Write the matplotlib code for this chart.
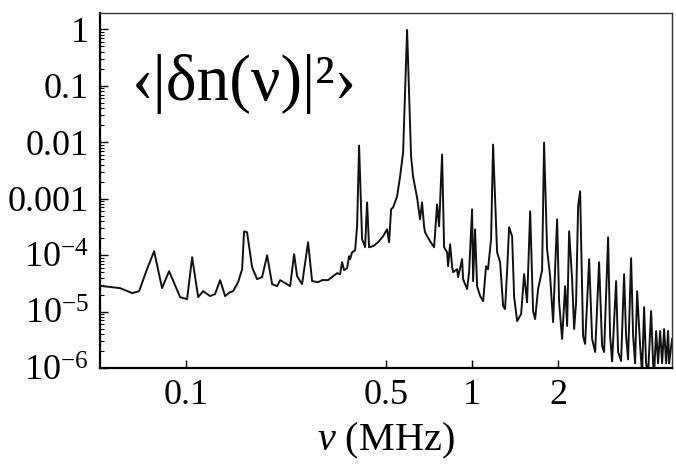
import matplotlib
matplotlib.use('Agg')
import matplotlib.pyplot as plt
from matplotlib.ticker import FixedLocator, FixedFormatter, LogLocator, NullLocator, NullFormatter

plt.rcParams['font.family'] = ['Liberation Serif', 'DejaVu Serif']
plt.rcParams['mathtext.fontset'] = 'custom'
plt.rcParams['mathtext.rm'] = 'Liberation Serif'
plt.rcParams['mathtext.it'] = 'Liberation Serif:italic'

# frequency (MHz) and spectral power
freq = [0.0500, 0.0588, 0.0648, 0.0685, 0.0730, 0.0773, 0.0824, 0.0872, 0.0953, 0.1008,
        0.1050, 0.1102, 0.1147, 0.1213, 0.1263, 0.1315, 0.1369, 0.1425, 0.1460, 0.1520,
        0.1570, 0.1595, 0.1634, 0.1701, 0.1771, 0.1844, 0.1920, 0.1999, 0.2081, 0.2132,
        0.2220, 0.2311, 0.2386, 0.2444, 0.2544, 0.2670, 0.2758, 0.2894, 0.2989, 0.3137,
        0.3266, 0.3373, 0.3456, 0.3511, 0.3568, 0.3655, 0.3714, 0.3745, 0.3805, 0.3899,
        0.3962, 0.4026, 0.4124, 0.4191, 0.4225, 0.4294, 0.4363, 0.4505, 0.4690, 0.4884,
        0.5044, 0.5126, 0.5209, 0.5294, 0.5467, 0.5601, 0.5738, 0.5925, 0.6118, 0.6217,
        0.6421, 0.6577, 0.6684, 0.6793, 0.6848, 0.7130, 0.7364, 0.7544, 0.7666, 0.7854,
        0.7982, 0.8177, 0.8243, 0.8377, 0.8513, 0.8582, 0.8862, 0.8933, 0.9226, 0.9301,
        0.9605, 0.9761, 1.000, 1.008, 1.024, 1.041, 1.067, 1.093, 1.119, 1.137,
        1.165, 1.184, 1.223, 1.253, 1.284, 1.304, 1.326, 1.347, 1.380, 1.403,
        1.437, 1.484, 1.520, 1.557, 1.596, 1.634, 1.661, 1.701, 1.757, 1.785,
        1.829, 1.874, 1.920, 1.951, 1.983, 2.015, 2.064, 2.115, 2.149, 2.184,
        2.237, 2.274, 2.310, 2.348, 2.386, 2.444, 2.484, 2.566, 2.628, 2.693,
        2.780, 2.848, 2.894, 2.989, 3.038, 3.087, 3.188, 3.240, 3.319, 3.400,
        3.455, 3.511, 3.597, 3.656, 3.715, 3.776, 3.868, 3.930, 3.994, 4.059,
        4.125, 4.226, 4.294, 4.329, 4.400, 4.470, 4.543, 4.617, 4.692, 4.769,
        4.846, 4.885, 5.003]
power = [2.86e-5, 2.60e-5, 2.12e-5, 2.30e-5, 5.63e-5, 1.17e-4, 2.60e-5, 5.20e-5, 1.80e-5, 1.66e-5,
         9.18e-5, 1.80e-5, 2.30e-5, 1.88e-5, 2.04e-5, 3.61e-5, 1.88e-5, 2.21e-5, 2.30e-5, 3.32e-5,
         5.63e-5, 2.64e-4, 2.54e-4, 6.11e-5, 3.75e-5, 4.07e-5, 9.95e-5, 3.06e-5, 2.82e-5, 3.61e-5,
         3.19e-5, 2.82e-5, 1.04e-4, 4.24e-5, 3.06e-5, 1.69e-4, 3.46e-5, 3.32e-5, 3.61e-5, 3.61e-5,
         4.24e-5, 4.79e-5, 4.60e-5, 7.50e-5, 5.41e-5, 5.87e-5, 9.58e-5, 8.47e-5, 1.12e-4, 1.22e-4,
         3.24e-4, 8.75e-3, 1.91e-4, 1.56e-4, 1.38e-4, 8.61e-4, 1.38e-4, 1.44e-4, 1.69e-4, 2.16e-4,
         2.87e-4, 1.69e-4, 6.47e-4, 7.02e-4, 1.10e-3, 2.48e-3, 6.58e-3, 0.98, 5.59e-3, 2.48e-3,
         1.05e-3, 4.31e-4, 8.61e-4, 3.24e-4, 2.54e-4, 1.76e-4, 1.38e-4, 7.93e-4, 3.24e-4, 6.07e-3,
         1.38e-4, 1.12e-4, 6.37e-5, 1.56e-4, 6.37e-5, 4.99e-5, 5.63e-5, 4.07e-5, 8.47e-5, 3.75e-5,
         2.50e-5, 4.99e-5, 6.47e-4, 3.46e-5, 2.87e-4, 2.82e-5, 1.88e-5, 1.53e-5, 6.37e-5, 5.63e-5,
         1.91e-4, 9.10e-3, 1.12e-4, 7.50e-5, 1.25e-5, 1.11e-5, 5.41e-5, 3.11e-4, 2.16e-4, 1.80e-5,
         6.79e-6, 9.04e-6, 4.60e-5, 1.46e-5, 5.96e-4, 1.02e-5, 7.36e-6, 2.50e-5, 5.41e-5, 9.88e-3,
         1.27e-4, 4.24e-5, 6.52e-6, 5.63e-5, 4.31e-4, 1.46e-5, 3.27e-6, 2.82e-5, 5.55e-6, 2.64e-4,
         3.75e-5, 4.91e-6, 1.46e-5, 7.31e-4, 1.35e-3, 3.69e-6, 2.67e-6, 8.47e-5, 3.27e-6, 1.92e-6,
         7.50e-5, 2.46e-6, 1.92e-6, 2.07e-4, 3.69e-6, 1.31e-6, 3.46e-5, 1.92e-6, 1.33e-6, 4.60e-5,
         3.69e-6, 1.42e-6, 8.81e-5, 3.69e-6, 1.21e-6, 2.30e-5, 2.46e-6, 8.0e-7, 1.20e-5, 1.21e-6,
         8.0e-7, 1.02e-5, 1.21e-6, 8.0e-7, 4.52e-6, 1.21e-6, 4.52e-6, 1.21e-6, 4.91e-6, 1.21e-6,
         4.52e-6, 1.21e-6, 3.27e-6]

x_ticks = [0.1, 0.5, 1, 2]
x_tick_labels = ['0.1', '0.5', '1', '2']
y_ticks = [1, 0.1, 0.01, 0.001, 1e-4, 1e-5, 1e-6]
y_tick_labels = ['1', '0.1', '0.01', '0.001', r'$10^{-4}$', r'$10^{-5}$', r'$10^{-6}$']

fig = plt.figure(figsize=(6.76, 4.72), dpi=100)
ax = fig.add_axes([100 / 676, 1 - 368 / 472, 572 / 676, 355 / 472])

ax.plot(freq, power, color='#111111', lw=1.4)
ax.set_xscale('log')
ax.set_yscale('log')
ax.set_xlim(0.05, 5.0)
ax.set_ylim(1e-6, 1.95)

ax.xaxis.set_major_locator(FixedLocator(x_ticks))
ax.xaxis.set_major_formatter(FixedFormatter(x_tick_labels))
ax.xaxis.set_minor_locator(NullLocator())
ax.yaxis.set_major_locator(FixedLocator(y_ticks))
ax.yaxis.set_major_formatter(FixedFormatter(y_tick_labels))
ax.yaxis.set_minor_locator(LogLocator(base=10, subs=range(2, 10), numticks=20))
ax.yaxis.set_minor_formatter(NullFormatter())

ax.tick_params(axis='both', which='major', direction='in', length=6, width=1.0,
               labelsize=26, top=False, right=False)
ax.tick_params(axis='y', which='minor', direction='in', length=3, width=0.8, right=False)
ax.tick_params(axis='x', which='major', pad=8)
ax.tick_params(axis='y', which='major', pad=8)

for side in ['left', 'bottom']:
    ax.spines[side].set_linewidth(1.6)
    ax.spines[side].set_color('black')
for side in ['top', 'right']:
    ax.spines[side].set_linewidth(1.0)
    ax.spines[side].set_color('#333333')

ax.set_xlabel(r'$\nu$ (MHz)', fontsize=29, labelpad=6)
ax.text(0.056, 0.755, '\u2039|\u03b4n(\u03bd)|\u00b2\u203a', transform=ax.transAxes,
        fontsize=47, va='baseline', ha='left')

fig.savefig('out.png', dpi=100)
